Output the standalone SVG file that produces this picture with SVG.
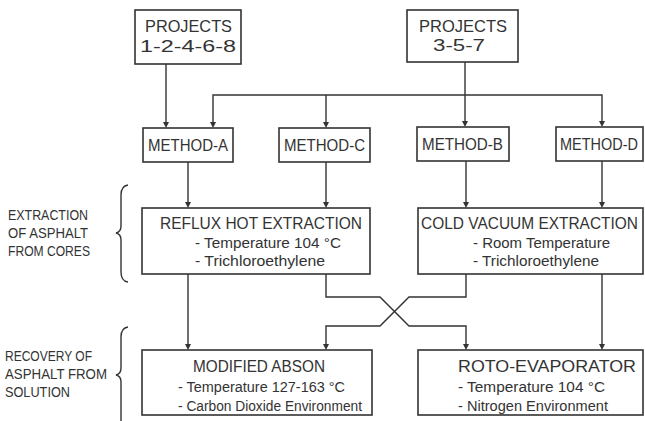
<svg xmlns="http://www.w3.org/2000/svg" width="645" height="421" viewBox="0 0 645 421">
<defs>
<style>
.box{fill:#fff;stroke:#333;stroke-width:1.6}
.ln{fill:none;stroke:#333;stroke-width:1.4}
.t{font-family:"Liberation Sans",Arial,sans-serif;fill:#333}
.big{font-size:17px}
.mid{font-size:16px}
.sm{font-size:14px}
.lab{font-size:14px}
.ah{fill:#333}
</style>
</defs>
<rect width="645" height="421" fill="#fff"/>

<g id="connectors">
<path class="ln" d="M166,64 V123"/>
<path class="ln" d="M465,62 V122"/>
<path class="ln" d="M213,123 V95 H602 V122"/>
<path class="ln" d="M326,95 V123"/>
<path class="ln" d="M188,162 V203"/>
<path class="ln" d="M326,162 V203"/>
<path class="ln" d="M466,161 V203"/>
<path class="ln" d="M602,161 V203"/>
<path class="ln" d="M188,274 V345"/>
<path class="ln" d="M326,274 V297 H380 L409,326 H466 V345"/>
<path class="ln" d="M466,274 V297 H409 L380,326 H326 V345"/>
<path class="ln" d="M602,274 V345"/>
<g class="ah">
<path d="M163,122 H169 L166,128 Z"/>
<path d="M210,122 H216 L213,128 Z"/>
<path d="M323,122 H329 L326,128 Z"/>
<path d="M462,121 H468 L465,127 Z"/>
<path d="M599,121 H605 L602,127 Z"/>
<path d="M185,202 H191 L188,208 Z"/>
<path d="M323,202 H329 L326,208 Z"/>
<path d="M463,202 H469 L466,208 Z"/>
<path d="M599,202 H605 L602,208 Z"/>
<path d="M185,344 H191 L188,350 Z"/>
<path d="M323,344 H329 L326,350 Z"/>
<path d="M463,344 H469 L466,350 Z"/>
<path d="M599,344 H605 L602,350 Z"/>
</g>
</g>

<g id="brace-extraction">
<path class="ln" d="M128,185 Q121,186 121,195 L121,226 Q121,232 116,233 Q121,234 121,240 L121,272 Q121,281 128,282"/>
<text class="t lab" x="8" y="220" textLength="80" lengthAdjust="spacingAndGlyphs">EXTRACTION</text>
<text class="t lab" x="8" y="238" textLength="80" lengthAdjust="spacingAndGlyphs">OF ASPHALT</text>
<text class="t lab" x="8" y="256" textLength="82" lengthAdjust="spacingAndGlyphs">FROM CORES</text>
</g>

<g id="brace-recovery">
<path class="ln" d="M128,327 Q121,328 121,337 L121,368 Q121,374 116,375 Q121,376 121,382 L121,421"/>
<text class="t lab" x="5" y="361" textLength="87" lengthAdjust="spacingAndGlyphs">RECOVERY OF</text>
<text class="t lab" x="5" y="379" textLength="102" lengthAdjust="spacingAndGlyphs">ASPHALT FROM</text>
<text class="t lab" x="5" y="397" textLength="65" lengthAdjust="spacingAndGlyphs">SOLUTION</text>
</g>

<g id="projects-1">
<rect class="box" x="135" y="10" width="106" height="54"/>
<text class="t big" x="145" y="32" textLength="87" lengthAdjust="spacingAndGlyphs">PROJECTS</text>
<text class="t big" x="140" y="52" textLength="96" lengthAdjust="spacingAndGlyphs">1-2-4-6-8</text>
</g>

<g id="projects-2">
<rect class="box" x="407" y="10" width="111" height="52"/>
<text class="t big" x="419" y="32" textLength="88" lengthAdjust="spacingAndGlyphs">PROJECTS</text>
<text class="t big" x="433" y="51" textLength="52" lengthAdjust="spacingAndGlyphs">3-5-7</text>
</g>

<g id="method-a">
<rect class="box" x="143" y="128" width="90" height="34"/>
<text class="t mid" x="148" y="151" textLength="80" lengthAdjust="spacingAndGlyphs">METHOD-A</text>
</g>
<g id="method-c">
<rect class="box" x="279" y="128" width="91" height="34"/>
<text class="t mid" x="284" y="151" textLength="81" lengthAdjust="spacingAndGlyphs">METHOD-C</text>
</g>
<g id="method-b">
<rect class="box" x="417" y="127" width="92" height="34"/>
<text class="t mid" x="422" y="150" textLength="81" lengthAdjust="spacingAndGlyphs">METHOD-B</text>
</g>
<g id="method-d">
<rect class="box" x="556" y="127" width="87" height="34"/>
<text class="t mid" x="560" y="150" textLength="78" lengthAdjust="spacingAndGlyphs">METHOD-D</text>
</g>

<g id="reflux">
<rect class="box" x="142" y="208" width="228" height="66"/>
<text class="t mid" x="160" y="229" textLength="202" lengthAdjust="spacingAndGlyphs">REFLUX HOT EXTRACTION</text>
<text class="t sm" x="195" y="248" textLength="146" lengthAdjust="spacingAndGlyphs">- Temperature 104 °C</text>
<text class="t sm" x="195" y="266" textLength="130" lengthAdjust="spacingAndGlyphs">- Trichloroethylene</text>
</g>

<g id="cold-vacuum">
<rect class="box" x="418" y="208" width="225" height="66"/>
<text class="t mid" x="421" y="229" textLength="217" lengthAdjust="spacingAndGlyphs">COLD VACUUM EXTRACTION</text>
<text class="t sm" x="473" y="248" textLength="137" lengthAdjust="spacingAndGlyphs">- Room Temperature</text>
<text class="t sm" x="473" y="266" textLength="126" lengthAdjust="spacingAndGlyphs">- Trichloroethylene</text>
</g>

<g id="modified-abson">
<rect class="box" x="142" y="350" width="230" height="65"/>
<text class="t mid" x="193" y="372" textLength="132" lengthAdjust="spacingAndGlyphs">MODIFIED ABSON</text>
<text class="t sm" x="178" y="392" textLength="167" lengthAdjust="spacingAndGlyphs">- Temperature 127-163 °C</text>
<text class="t sm" x="178" y="411" textLength="184" lengthAdjust="spacingAndGlyphs">- Carbon Dioxide Environment</text>
</g>

<g id="roto-evaporator">
<rect class="box" x="418" y="350" width="225" height="65"/>
<text class="t mid" x="458" y="372" textLength="178" lengthAdjust="spacingAndGlyphs">ROTO-EVAPORATOR</text>
<text class="t sm" x="458" y="392" textLength="147" lengthAdjust="spacingAndGlyphs">- Temperature 104 °C</text>
<text class="t sm" x="458" y="411" textLength="150" lengthAdjust="spacingAndGlyphs">- Nitrogen Environment</text>
</g>
</svg>
